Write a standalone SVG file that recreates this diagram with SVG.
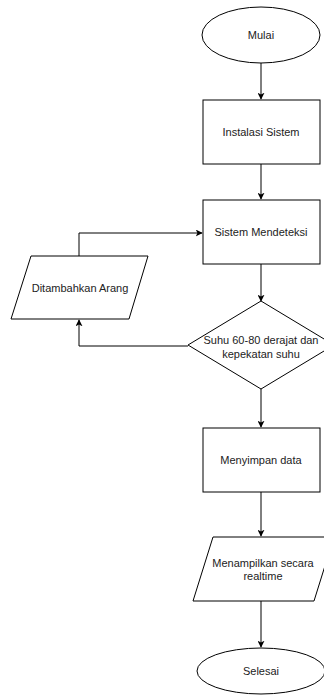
<svg xmlns="http://www.w3.org/2000/svg" width="324" height="696" viewBox="0 0 324 696">
<style>
.s{fill:#fff;stroke:#000;stroke-width:1}
.t{font-family:"Liberation Sans",Arial,sans-serif;font-size:11px;fill:#222;text-anchor:middle}
.c{fill:none;stroke:#000;stroke-width:1}
</style>
<defs>
<marker id="a" viewBox="0 0 10 10" refX="9" refY="5" markerWidth="7" markerHeight="7" orient="auto" markerUnits="userSpaceOnUse">
<path d="M0,0 L10,5 L0,10 L2.5,5 Z" fill="#000"/>
</marker>
</defs>
<rect width="324" height="696" fill="#fff"/>
<g id="connectors">
<path class="c" d="M261,63 V99" marker-end="url(#a)"/>
<path class="c" d="M261,164 V199" marker-end="url(#a)"/>
<path class="c" d="M261,264 V301" marker-end="url(#a)"/>
<path class="c" d="M261,389 V427" marker-end="url(#a)"/>
<path class="c" d="M261,492 V536" marker-end="url(#a)"/>
<path class="c" d="M261,601 V647" marker-end="url(#a)"/>
<path class="c" d="M79,256 V233 H202" marker-end="url(#a)"/>
<path class="c" d="M188,346 H79 V320" marker-end="url(#a)"/>
</g>
<g id="mulai">
<ellipse class="s" cx="261" cy="35" rx="59" ry="28"/>
<text class="t" x="261" y="39">Mulai</text>
</g>
<g id="instalasi">
<rect class="s" x="203" y="100" width="117" height="64"/>
<text class="t" x="261" y="136">Instalasi Sistem</text>
</g>
<g id="mendeteksi">
<rect class="s" x="203" y="200" width="117" height="64"/>
<text class="t" x="261" y="236">Sistem Mendeteksi</text>
</g>
<g id="suhu">
<polygon class="s" points="261,301 334,345 261,389 188,345"/>
<text class="t" x="261" y="344">Suhu 60-80 derajat dan</text>
<text class="t" x="261" y="358">kepekatan suhu</text>
</g>
<g id="arang">
<polygon class="s" points="31,256 148,256 129,319 11,319"/>
<text class="t" x="80" y="292">Ditambahkan Arang</text>
</g>
<g id="menyimpan">
<rect class="s" x="203" y="428" width="117" height="64"/>
<text class="t" x="261" y="464">Menyimpan data</text>
</g>
<g id="menampilkan">
<polygon class="s" points="213,537 334,537 314,601 193,601"/>
<text class="t" x="263" y="567">Menampilkan secara</text>
<text class="t" x="263" y="580">realtime</text>
</g>
<g id="selesai">
<ellipse class="s" cx="261" cy="671" rx="64" ry="23"/>
<text class="t" x="261" y="675">Selesai</text>
</g>
</svg>
